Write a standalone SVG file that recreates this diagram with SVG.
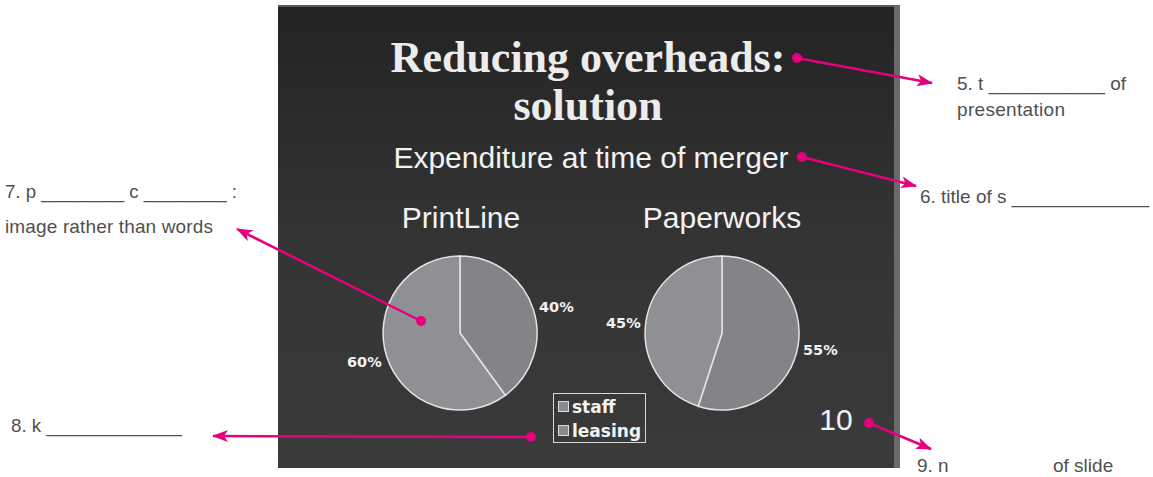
<svg xmlns="http://www.w3.org/2000/svg" width="1153" height="477" viewBox="0 0 1153 477">
<style>
.title{font-family:"Liberation Serif",serif;font-weight:bold;font-size:44px;fill:#ececec;text-anchor:middle}
.sub{font-family:"Liberation Sans",Arial,sans-serif;font-size:30px;fill:#f2f2f2;text-anchor:middle}
.pct{font-family:"DejaVu Sans",sans-serif;font-weight:bold;font-size:14.5px;fill:#f2f2f2}
.leg{font-family:"DejaVu Sans",sans-serif;font-weight:bold;font-size:17px;fill:#f2f2f2}
.ann{font-family:"Liberation Sans",Arial,sans-serif;font-size:19px;fill:#505050}
.dark{fill:#838488;stroke:#e4e4e4;stroke-width:1.5}
.light{fill:#8f9094;stroke:#e4e4e4;stroke-width:1.5}
.sq{fill:#8a8b8f;stroke:#dcdcdc;stroke-width:1}
.con line{stroke:#e5007d;stroke-width:2.5;fill:none}
.con circle{fill:#e5007d}
</style>
<defs>
<linearGradient id="bg" x1="0" y1="0" x2="0" y2="1">
<stop offset="0" stop-color="#232323"/>
<stop offset="0.5" stop-color="#343434"/>
<stop offset="1" stop-color="#3a3a3a"/>
</linearGradient>
<marker id="ah" markerUnits="userSpaceOnUse" markerWidth="18" markerHeight="12" refX="15" refY="6" orient="auto">
<path d="M0,0 L16,6 L0,12 L4,6 Z" fill="#e5007d"/>
</marker>
</defs>
<rect width="1153" height="477" fill="#ffffff"/>
<g id="slide">
<rect x="278" y="5" width="622" height="463" fill="#5a5a5a"/>
<rect x="278" y="7" width="616" height="461" fill="url(#bg)"/>
<rect x="894" y="5" width="6" height="463" fill="#6a6a6a"/>
</g>
<g id="title">
<text class="title" x="588" y="72">Reducing overheads:</text>
<text class="title" x="588" y="120">solution</text>
</g>
<g id="subtitle">
<text class="sub" x="591" y="168">Expenditure at time of merger</text>
</g>
<g id="pie-printline">
<text class="sub" x="461" y="228">PrintLine</text>
<path class="dark" d="M460,333 L460,256 A77,77 0 0 1 505.3,395.3 Z"/>
<path class="light" d="M460,333 L505.3,395.3 A77,77 0 1 1 460,256 Z"/>
<text class="pct" x="539" y="312">40%</text>
<text class="pct" x="347" y="367">60%</text>
</g>
<g id="pie-paperworks">
<text class="sub" x="722" y="228">Paperworks</text>
<path class="dark" d="M722,333 L722,256 A77,77 0 1 1 698.2,406.2 Z"/>
<path class="light" d="M722,333 L698.2,406.2 A77,77 0 0 1 722,256 Z"/>
<text class="pct" x="606" y="328">45%</text>
<text class="pct" x="803" y="355">55%</text>
</g>
<g id="legend">
<rect x="553.5" y="393.5" width="92" height="49" fill="none" stroke="#d8d8d8" stroke-width="1"/>
<rect class="sq" x="558.5" y="401.5" width="10" height="10"/>
<text class="leg" x="572" y="413">staff</text>
<rect class="sq" x="558.5" y="425.5" width="10" height="10"/>
<text class="leg" x="572" y="437">leasing</text>
</g>
<g id="slide-number">
<text class="sub" x="836" y="430" font-size="28">10</text>
</g>
<g id="label5">
<text class="ann" x="957" y="90" textLength="169" lengthAdjust="spacingAndGlyphs">5. t ___________ of</text>
<text class="ann" x="957" y="116" textLength="108">presentation</text>
</g>
<g id="label6">
<text class="ann" x="920" y="203" textLength="229" lengthAdjust="spacingAndGlyphs">6. title of s _____________</text>
</g>
<g id="label7">
<text class="ann" x="5" y="198" textLength="232" lengthAdjust="spacingAndGlyphs">7. p ________ c ________ :</text>
<text class="ann" x="5" y="233" textLength="208">image rather than words</text>
</g>
<g id="label8">
<text class="ann" x="11" y="432" textLength="171" lengthAdjust="spacingAndGlyphs">8. k _____________</text>
</g>
<g id="label9">
<text class="ann" y="472"><tspan x="917">9. n</tspan><tspan x="1053">of slide</tspan></text>
</g>
<g id="connectors" class="con">
<line x1="797" y1="58" x2="932" y2="83" marker-end="url(#ah)"/>
<circle cx="797" cy="58" r="5"/>
<line x1="802" y1="157" x2="916" y2="186" marker-end="url(#ah)"/>
<circle cx="802" cy="157" r="5"/>
<line x1="421" y1="321" x2="237" y2="229" marker-end="url(#ah)"/>
<circle cx="421" cy="321" r="5"/>
<line x1="531" y1="437" x2="213" y2="436" marker-end="url(#ah)"/>
<circle cx="531" cy="437" r="5"/>
<line x1="869" y1="423" x2="931" y2="449" marker-end="url(#ah)"/>
<circle cx="869" cy="423" r="5"/>
</g>
</svg>
